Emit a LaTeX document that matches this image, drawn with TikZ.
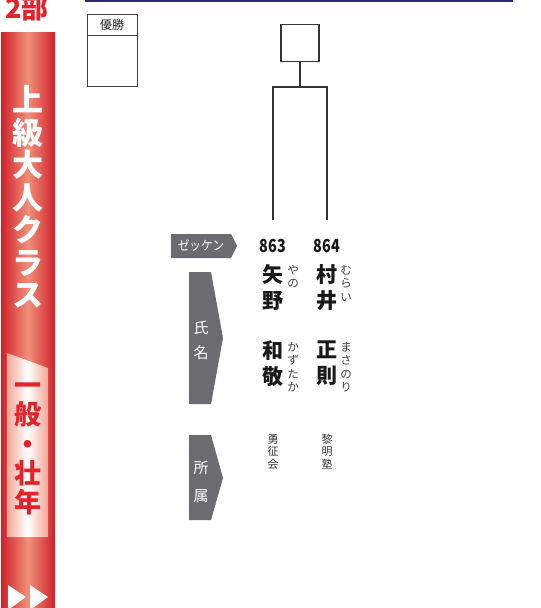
\documentclass[tikz,border=0pt]{standalone}
\usepackage{fontspec}
\newfontfamily\jp{Noto Sans CJK JP}
\usepackage{xcolor}
\definecolor{barred}{HTML}{D0202A}
\definecolor{barlight}{HTML}{F0907A}
\definecolor{panelred}{HTML}{E5222B}
\definecolor{labelgray}{HTML}{6B6B70}
\definecolor{navyline}{HTML}{2E2A6E}

\begin{document}
\begin{tikzpicture}[x=1pt, y=-1pt,
	tagfill/.style = {fill = labelgray, draw = none},
	tagtext/.style = {text = white, font = \jp\fontsize{13}{17}\selectfont, align = center, inner sep = 0},
	namechar/.style = {font = \jp\bfseries\fontsize{21}{26}\selectfont, text = black!90, align = center, inner sep = 0, anchor = north},
	rubychar/.style = {font = \jp\fontsize{11.5}{13.5}\selectfont, text = black!75, align = center, inner sep = 0, anchor = north},
	clubchar/.style = {font = \jp\fontsize{11}{12.5}\selectfont, text = black!80, align = center, inner sep = 0, anchor = north},
	numtext/.style = {font = \jp\bfseries\fontsize{18}{18}\selectfont, text = black!90, inner sep = 0},
	bracketline/.style = {draw = black!80, line width = 1.4pt}]
	
	\useasboundingbox (0,0) rectangle (541,608);
	
	% side bar
	\shade[left color = barred, right color = barred, middle color = barlight] (1,32) rectangle (55,610);
	\shade[left color = barlight!80!white, right color = barlight!80!white, middle color = white] (7,353) -- (48,368) -- (48,537) -- (7,537) -- cycle;
	\fill[white] (8,585) -- (26,597) -- (8,610) -- cycle;
	\fill[white] (30,585) -- (48,597) -- (30,610) -- cycle;
	\node[text = panelred, font = \jp\bfseries\fontsize{27}{27}\selectfont, inner sep = 0] (part) at (27,8) {2部};
	\node[text = white, font = \jp\bfseries\fontsize{31}{32.5}\selectfont, align = center, inner sep = 0] (klass) at (28,197) {上\\級\\大\\人\\ク\\ラ\\ス};
	\node[text = panelred, font = \jp\bfseries\fontsize{27}{29.3}\selectfont, align = center, inner sep = 0] (age) at (28,449) {一\\般\\・\\壮\\年};
	
	% top rule
	\fill[navyline] (85,-1) rectangle (513,2);
	
	% champion box
	\draw[black!75, line width = 1pt] (87,14) rectangle (137,86);
	\draw[black!75, line width = 1pt] (87,35) -- (137,35);
	\node[font = \jp\fontsize{12}{12}\selectfont, text = black!85, inner sep = 0] (champ) at (112,24.5) {優勝};
	
	% bracket
	\node[bracketline, minimum width = 38pt, minimum height = 37pt, inner sep = 0] (win) at (300,43) {};
	\coordinate (join) at (300,87);
	\coordinate (p863) at (273,220);
	\coordinate (p864) at (327,220);
	\draw[bracketline] (win.south) -- (join);
	\draw[bracketline] (p863) |- (join) -| (p864);
	
	% tags
	\fill[tagfill] (171,234) -- (231,234) -- (237,246) -- (231,258) -- (171,258) -- cycle;
	\node[tagtext] (zekken) at (201,246) {\scalebox{0.9}[1]{ゼッケン}};
	\fill[tagfill] (189,272) -- (211,272) -- (223,338) -- (211,404) -- (189,404) -- cycle;
	\node[tagtext, font = \jp\fontsize{15}{25}\selectfont] (shimei) at (201,340) {氏\\名};
	\fill[tagfill] (189,435) -- (211,435) -- (223,478) -- (211,520) -- (189,520) -- cycle;
	\node[tagtext, font = \jp\fontsize{15}{28}\selectfont] (shozoku) at (201,482) {所\\属};
	
	% players
	\node[numtext] (n863) at (273,246) {\scalebox{0.8}[1]{863}};
	\node[numtext] (n864) at (327,246) {\scalebox{0.8}[1]{864}};
	
	\node[namechar] (sei863) at (273,264) {矢\\野};
	\node[rubychar] (sy863) at (293,265) {や\\の};
	\node[namechar] (mei863) at (273,341) {和\\敬};
	\node[rubychar] (my863) at (293,342) {か\\ず\\た\\か};
	
	\node[namechar] (sei864) at (327,264) {村\\井};
	\node[rubychar] (sy864) at (346,265) {む\\ら\\い};
	\node[namechar] (mei864) at (327,341) {正\\則};
	\node[rubychar] (my864) at (346,342) {ま\\さ\\の\\り};
	
	\node[clubchar] (c863) at (273,434) {勇\\征\\会};
	\node[clubchar] (c864) at (327,434) {黎\\明\\塾};
	
\end{tikzpicture}
\end{document}
